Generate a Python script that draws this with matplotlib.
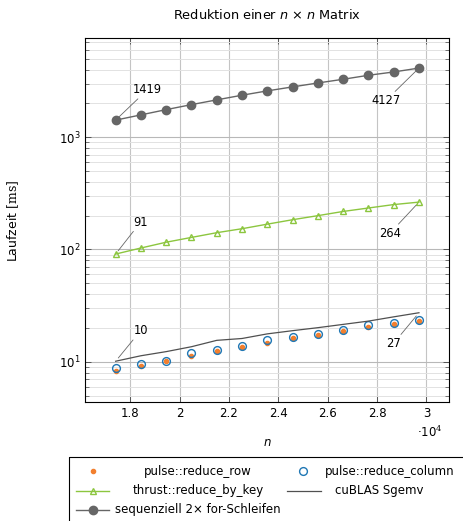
import matplotlib

matplotlib.use("Agg")
import matplotlib.pyplot as plt
from matplotlib.patches import Rectangle
from matplotlib.ticker import FuncFormatter, LogLocator, MultipleLocator, NullFormatter

plt.rcParams["font.family"] = ["DejaVu Sans"]
plt.rcParams["mathtext.fontset"] = "custom"
plt.rcParams["mathtext.rm"] = "DejaVu Serif"
plt.rcParams["mathtext.it"] = "DejaVu Sans:italic"
plt.rcParams["mathtext.sf"] = "DejaVu Sans"

# matrix size n and runtime in ms
n = [17408, 18432, 19456, 20480, 21504, 22528, 23552, 24576, 25600, 26624, 27648, 28672, 29696]
reduce_row = [8.26, 9.16, 10.2, 11.2, 12.5, 13.4, 14.7, 16.1, 17.4, 18.7, 20.5, 21.6, 23.0]
reduce_col = [8.84, 9.48, 10.2, 12.0, 12.7, 13.7, 15.7, 16.7, 17.7, 19.3, 21.2, 22.2, 23.5]
thrust = [91, 103, 116, 128, 141, 153, 168, 184, 200, 218, 234, 251, 264]
cublas = [10.1, 11.3, 12.3, 13.6, 15.5, 16.1, 17.7, 18.9, 20.1, 21.5, 23.0, 25.1, 27.3]
sequential = [1419, 1580, 1760, 1950, 2150, 2365, 2585, 2805, 3040, 3280, 3560, 3810, 4127]

ORANGE = "#f27f2e"
BLUE = "#1f77b4"
GREEN = "#8cc63f"
GRAY = "#666666"
DARK = "#505050"

W, H = 463, 521
fig = plt.figure(figsize=(W / 100, H / 100), dpi=100)
ax = fig.add_axes([85.3 / W, 1 - 402.3 / H, 364 / W, 364 / H])

ax.plot(n, reduce_row, "o", ms=3, color=ORANGE, mec=ORANGE, zorder=3)
ax.plot(n, reduce_col, "o", ms=5.6, mfc="none", mec=BLUE, mew=1.0, zorder=4)
ax.plot(n, thrust, "-^", color=GREEN, lw=1.0, ms=5, mfc="none", mec=GREEN, mew=1.0, zorder=4)
ax.plot(n, cublas, "-", color=DARK, lw=0.9, zorder=4)
ax.plot(n, sequential, "-o", color=GRAY, lw=1.0, ms=6, zorder=5)

ax.set_yscale("log")
ax.set_xlim(16179, 30925)
ax.set_ylim(4.35, 7600)

ax.xaxis.set_major_locator(MultipleLocator(2000))
ax.xaxis.set_major_formatter(FuncFormatter(lambda v, p: f"{v / 1e4:g}"))
ax.yaxis.set_major_locator(LogLocator(base=10))
ax.yaxis.set_minor_locator(LogLocator(base=10, subs=range(2, 10)))
ax.yaxis.set_minor_formatter(NullFormatter())

ax.tick_params(which="both", direction="in", top=True, right=True, labelsize=8.5, color="#444444")
ax.tick_params(which="major", length=4, width=0.6)
ax.tick_params(which="minor", length=3, width=0.5)
ax.grid(True, which="major", axis="x", color="#c4c4c4", lw=0.8)
ax.grid(True, which="major", axis="y", color="#b8b8b8", lw=0.8)
ax.grid(True, which="minor", axis="y", color="#e2e2e2", lw=0.7)
ax.set_axisbelow(True)
for sp in ax.spines.values():
    sp.set_linewidth(0.8)

ax.set_title("Reduktion einer $n$ × $n$ Matrix", fontsize=9.3, pad=14)
ax.set_xlabel("$n$", fontsize=8.5)
ax.xaxis.set_label_coords(0.5, -0.093)
ax.set_ylabel("Laufzeit $[\\mathrm{ms}]$", fontsize=9)
ax.yaxis.set_label_coords(-0.177, 0.5)
ax.text(0.947, -0.081, "·10$^{4}$", transform=ax.transAxes, ha="center", va="center", fontsize=8.5)

# value pins at first and last point
pins = [
    (n[0], sequential[0], (23, 22)), (n[-1], sequential[-1], (-24, -23.5)),
    (n[0], thrust[0], (18, 23)), (n[-1], thrust[-1], (-21, -22.5)),
    (n[0], cublas[0], (18, 22)), (n[-1], cublas[-1], (-18.5, -22.3)),
]
for x, y, off in pins:
    ax.annotate(f"{y:.0f}", xy=(x, y), xytext=off, textcoords="offset points",
                ha="center", va="center", fontsize=8.3, zorder=6,
                arrowprops=dict(arrowstyle="-", color=GRAY, lw=0.6, shrinkA=0, shrinkB=3))

# legend drawn by hand so entries can be centred like pgfplots
lg = fig.add_axes([0, 0, 1, 1])
lg.set_xlim(0, W)
lg.set_ylim(H, 0)
lg.axis("off")
lg.add_patch(Rectangle((69, 456.7), 420, 90, fill=False, ec="black", lw=0.8, clip_on=False))
r1, r2, r3 = 471, 490.7, 510
lg.plot([93.3], [r1], "o", ms=3, color=ORANGE)
lg.plot([303.3], [r1], "o", ms=5.6, mfc="none", mec=BLUE, mew=1.0)
lg.plot([76, 109.3], [r2, r2], color=GREEN, lw=1.0)
lg.plot([93], [r2], "^", ms=5, mfc="none", mec=GREEN, mew=1.0)
lg.plot([287.3, 320.7], [r2, r2], color=DARK, lw=0.9)
lg.plot([76, 109.3], [r3, r3], color=GRAY, lw=1.0)
lg.plot([93], [r3], "o", ms=6, color=GRAY)
fs = 8.5
lg.text(198, r1, "pulse::reduce_row", ha="center", va="center", fontsize=fs)
lg.text(390, r1, "pulse::reduce_column", ha="center", va="center", fontsize=fs)
lg.text(198, r2, "thrust::reduce_by_key", ha="center", va="center", fontsize=fs)
lg.text(379, r2, "cuBLAS Sgemv", ha="center", va="center", fontsize=fs)
lg.text(198, r3, "sequenziell 2× for-Schleifen", ha="center", va="center", fontsize=fs)

fig.savefig("out.png", dpi=100)
